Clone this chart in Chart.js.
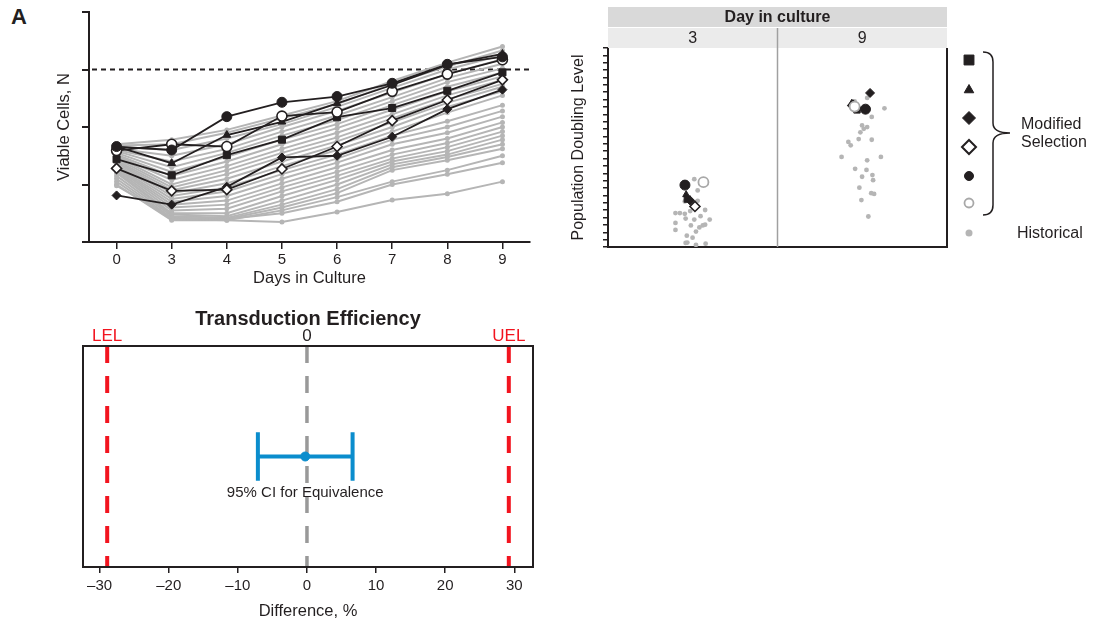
<!DOCTYPE html>
<html>
<head>
<meta charset="utf-8">
<script src="https://cdn.jsdelivr.net/npm/chart.js@4.4.1/dist/chart.umd.min.js"></script>
<style>
  body { margin: 0; background: #fff; width: 1094px; height: 625px; position: relative; overflow: hidden;
         font-family: "Liberation Sans", Arial, sans-serif; }
  .box { position: absolute; }
  #panelA { position: absolute; left: 11px; top: 4px; font-weight: bold; font-size: 22px; color: #231f20; }
</style>
</head>
<body>
<div id="panelA">A</div>
<div class="box" style="left:0;top:0;width:545px;height:295px"><canvas id="cells" width="545" height="295"></canvas></div>
<div class="box" style="left:560px;top:0;width:534px;height:260px"><canvas id="pdl" width="534" height="260"></canvas></div>
<div class="box" style="left:0;top:295px;width:560px;height:330px"><canvas id="te" width="560" height="330"></canvas></div>
<script>
const ink = '#231f20';
const grey = '#b5b5b5';
const red = '#f2141f';
const blue = '#0b8dcd';

// --- viable cells over time ---
const days = ['0', '3', '4', '5', '6', '7', '8', '9'];
const cellsSquare      = [1.44, 1.16, 1.51, 1.78, 2.17, 2.33, 2.63, 2.95];
const cellsTriangle    = [1.66, 1.37, 1.86, 2.09, 2.41, 2.73, 3.08, 3.27];
const cellsDiamond     = [0.81, 0.65, 0.96, 1.47, 1.50, 1.83, 2.31, 2.65];
const cellsOpenDiamond = [1.28, 0.89, 0.91, 1.27, 1.66, 2.11, 2.47, 2.82];
const cellsCircle      = [1.66, 1.60, 2.18, 2.43, 2.53, 2.76, 3.09, 3.22];
const cellsOpenCircle  = [1.59, 1.70, 1.66, 2.19, 2.26, 2.62, 2.92, 3.17];
const historicalCells = [
  [1.70, 1.78, 1.95, 2.20, 2.45, 2.80, 3.12, 3.40],
  [1.68, 1.70, 1.90, 2.15, 2.40, 2.75, 3.05, 3.33],
  [1.65, 1.60, 1.80, 2.05, 2.35, 2.68, 3.00, 3.25],
  [1.62, 1.50, 1.70, 2.00, 2.28, 2.60, 2.92, 3.18],
  [1.60, 1.40, 1.62, 1.92, 2.20, 2.52, 2.85, 3.10],
  [1.58, 1.30, 1.55, 1.85, 2.12, 2.45, 2.78, 3.02],
  [1.55, 1.22, 1.48, 1.78, 2.05, 2.38, 2.70, 2.95],
  [1.52, 1.15, 1.40, 1.70, 1.98, 2.30, 2.62, 2.88],
  [1.50, 1.08, 1.32, 1.62, 1.90, 2.22, 2.55, 2.82],
  [1.48, 1.00, 1.25, 1.55, 1.82, 2.15, 2.48, 2.75],
  [1.45, 0.95, 1.18, 1.48, 1.75, 2.08, 2.42, 2.70],
  [1.42, 0.90, 1.10, 1.40, 1.68, 2.00, 2.35, 2.62],
  [1.40, 0.85, 1.02, 1.32, 1.60, 1.92, 2.25, 2.55],
  [1.38, 0.80, 0.95, 1.25, 1.52, 1.85, 2.10, 2.38],
  [1.35, 0.75, 0.88, 1.18, 1.45, 1.78, 2.00, 2.28],
  [1.32, 0.70, 0.80, 1.10, 1.38, 1.70, 1.90, 2.18],
  [1.30, 0.65, 0.72, 1.02, 1.30, 1.60, 1.80, 2.08],
  [1.28, 0.60, 0.65, 0.95, 1.22, 1.52, 1.72, 2.00],
  [1.25, 0.55, 0.58, 0.88, 1.15, 1.45, 1.65, 1.92],
  [1.22, 0.50, 0.50, 0.80, 1.08, 1.40, 1.58, 1.85],
  [1.20, 0.48, 0.45, 0.72, 1.00, 1.35, 1.52, 1.78],
  [1.15, 0.45, 0.42, 0.65, 0.92, 1.30, 1.48, 1.70],
  [1.10, 0.42, 0.40, 0.60, 0.85, 1.25, 1.42, 1.62],
  [1.05, 0.40, 0.38, 0.55, 0.78, 1.05, 1.25, 1.50],
  [0.98, 0.42, 0.40, 0.50, 0.70, 1.00, 1.18, 1.38],
  [1.00, 0.38, 0.38, 0.35, 0.52, 0.73, 0.84, 1.05]
];
const cellsLimit = 3;

// --- population doubling level, day 3 and day 9 ---
const pdlDays = ['3', '9'];
const pdlSquare      = [{x: 0.468, y: 6.5}, {x: 1.469, y: 18.6}];
const pdlTriangle    = [{x: 0.461, y: 7.1}, {x: 1.438, y: 19.5}];
const pdlDiamond     = [{x: 0.485, y: 6.3}, {x: 1.546, y: 20.9}];
const pdlOpenDiamond = [{x: 0.513, y: 5.5}, {x: 1.445, y: 19.2}];
const pdlCircle      = [{x: 0.454, y: 8.4}, {x: 1.519, y: 18.7}];
const pdlOpenCircle  = [{x: 0.563, y: 8.8}, {x: 1.455, y: 19.05}];
const pdlHistorical = [
  {x: 0.448, y: 8.6}, {x: 0.509, y: 9.2}, {x: 0.529, y: 7.67}, {x: 0.453, y: 6.19}, {x: 0.529, y: 6.27},
  {x: 0.398, y: 4.6}, {x: 0.424, y: 4.6}, {x: 0.453, y: 4.5}, {x: 0.485, y: 4.88}, {x: 0.573, y: 5.02},
  {x: 0.546, y: 4.18}, {x: 0.600, y: 3.72}, {x: 0.573, y: 3.03}, {x: 0.559, y: 2.93}, {x: 0.398, y: 3.26},
  {x: 0.458, y: 3.85}, {x: 0.509, y: 3.72}, {x: 0.539, y: 2.65}, {x: 0.489, y: 2.93}, {x: 0.519, y: 2.09},
  {x: 0.398, y: 2.32}, {x: 0.465, y: 1.53}, {x: 0.499, y: 1.26}, {x: 0.458, y: 0.55}, {x: 0.468, y: 0.6},
  {x: 0.519, y: 0.3}, {x: 0.576, y: 0.45},
  {x: 1.529, y: 20.22}, {x: 1.455, y: 19.75}, {x: 1.631, y: 18.82}, {x: 1.556, y: 17.65}, {x: 1.499, y: 16.5},
  {x: 1.529, y: 16.27}, {x: 1.489, y: 15.56}, {x: 1.509, y: 16.04}, {x: 1.479, y: 14.64}, {x: 1.556, y: 14.55},
  {x: 1.418, y: 14.26}, {x: 1.432, y: 13.8}, {x: 1.378, y: 12.22}, {x: 1.529, y: 11.76}, {x: 1.610, y: 12.22},
  {x: 1.458, y: 10.6}, {x: 1.525, y: 10.46}, {x: 1.499, y: 9.53}, {x: 1.560, y: 9.76}, {x: 1.564, y: 9.06},
  {x: 1.483, y: 8.05}, {x: 1.553, y: 7.3}, {x: 1.570, y: 7.2}, {x: 1.495, y: 6.36}, {x: 1.536, y: 4.14}
];

// --- transduction efficiency equivalence ---
const diffTicks = [-30, -20, -10, 0, 10, 20, 30];
const diffEstimate = -0.25;
const diffCI = [-7.1, 6.6];
const lel = -28.9;
const uel = 29.2;

Chart.defaults.font.family = '"Liberation Sans", Arial, sans-serif';
Chart.defaults.color = ink;
Chart.defaults.animation = false;
Chart.defaults.plugins.legend.display = false;
Chart.defaults.plugins.tooltip.enabled = false;

function markerLine(data, style, radius, open) {
  return {
    data: data, borderColor: ink, borderWidth: 1.8, pointStyle: style, pointRadius: radius,
    pointBackgroundColor: open ? '#fff' : ink, pointBorderColor: ink, pointBorderWidth: open ? 1.6 : 1
  };
}

const cellSets = [
  markerLine(cellsCircle, 'circle', 5, false),
  markerLine(cellsOpenCircle, 'circle', 5, true),
  markerLine(cellsTriangle, 'triangle', 4.5, false),
  markerLine(cellsSquare, 'rect', 5, false),
  markerLine(cellsOpenDiamond, 'rectRot', 5, true),
  markerLine(cellsDiamond, 'rectRot', 4.5, false)
];
historicalCells.forEach(h => cellSets.push({
  data: h, borderColor: grey, borderWidth: 2, pointRadius: 2.5,
  pointBackgroundColor: grey, pointBorderColor: grey, pointBorderWidth: 0
}));

const limitLine = {
  id: 'limitLine',
  beforeDatasetsDraw(chart) {
    const {ctx, chartArea, scales} = chart;
    const y = scales.y.getPixelForValue(cellsLimit);
    ctx.save();
    ctx.strokeStyle = ink;
    ctx.lineWidth = 2;
    ctx.setLineDash([5, 4]);
    ctx.beginPath();
    ctx.moveTo(chartArea.left + 3, y);
    ctx.lineTo(chartArea.right, y);
    ctx.stroke();
    ctx.restore();
  }
};

new Chart(document.getElementById('cells'), {
  type: 'line',
  data: { labels: days, datasets: cellSets },
  options: {
    responsive: false,
    layout: { padding: { left: 52, top: 12, right: 15, bottom: 0 } },
    scales: {
      x: {
        offset: true,
        grid: { offset: false, drawOnChartArea: false, color: ink, lineWidth: 1.5, tickLength: 7 },
        border: { color: ink, width: 2 },
        ticks: { font: { size: 15 }, padding: 2, color: ink, maxRotation: 0 },
        title: { display: true, text: 'Days in Culture', font: { size: 16.5 }, padding: { top: 0, bottom: 7 } },
        afterFit: s => { s.height = 53; }
      },
      y: {
        min: 0, max: 4,
        ticks: { stepSize: 1, display: false },
        grid: { drawOnChartArea: false, color: ink, lineWidth: 2, tickLength: 7 },
        border: { color: ink, width: 2 },
        title: { display: true, text: 'Viable Cells, N', font: { size: 16.5 }, padding: { top: 3 } },
        afterFit: s => { s.width = 37; }
      }
    }
  },
  plugins: [limitLine]
});

// population doubling level
function pdlSet(data, style, radius, fill, border, width) {
  return { data: data, pointStyle: style, pointRadius: radius, pointBackgroundColor: fill,
           pointBorderColor: border, pointBorderWidth: width };
}

const pdlSets = [
  pdlSet(pdlDiamond, 'rectRot', 4.5, ink, ink, 1),
  pdlSet(pdlCircle, 'circle', 5, ink, ink, 1),
  pdlSet(pdlOpenCircle, 'circle', 5, '#fff', '#a8a8a8', 1.8),
  pdlSet(pdlOpenDiamond, 'rectRot', 5, '#fff', ink, 1.6),
  pdlSet(pdlSquare, 'rect', 4.5, ink, ink, 1),
  pdlSet(pdlTriangle, 'triangle', 4, ink, ink, 1),
  pdlSet(pdlHistorical, 'circle', 2.4, grey, grey, 0)
];

const legendItems = [
  { style: 'rect', radius: 7, fill: ink, stroke: ink, width: 1, y: 60 },
  { style: 'triangle', radius: 5.5, fill: ink, stroke: ink, width: 1, y: 90 },
  { style: 'rectRot', radius: 6.5, fill: ink, stroke: ink, width: 1, y: 118 },
  { style: 'rectRot', radius: 7, fill: '#fff', stroke: ink, width: 2, y: 147 },
  { style: 'circle', radius: 4.5, fill: ink, stroke: ink, width: 1, y: 176 },
  { style: 'circle', radius: 4.5, fill: '#fff', stroke: '#a8a8a8', width: 1.8, y: 203 },
  { style: 'circle', radius: 3.5, fill: grey, stroke: grey, width: 0, y: 233 }
];

const facetFrame = {
  id: 'facetFrame',
  afterDraw(chart) {
    const {ctx, chartArea: a, scales: {x}} = chart;
    const w = a.right - a.left;
    ctx.save();
    ctx.fillStyle = '#d9d9d9';
    ctx.fillRect(a.left, 7, w, 20);
    ctx.fillStyle = '#ebebeb';
    ctx.fillRect(a.left, 28, w, 20);
    ctx.fillStyle = ink;
    ctx.textAlign = 'center';
    ctx.textBaseline = 'middle';
    ctx.font = 'bold 16px "Liberation Sans", Arial, sans-serif';
    ctx.fillText('Day in culture', (a.left + a.right) / 2, 17.5);
    ctx.font = '16px "Liberation Sans", Arial, sans-serif';
    pdlDays.forEach((d, i) => ctx.fillText(d, x.getPixelForValue(i + 0.5), 38.5));
    // panel divider
    ctx.strokeStyle = '#a0a0a0';
    ctx.lineWidth = 1.5;
    ctx.beginPath();
    ctx.moveTo(x.getPixelForValue(1), 28);
    ctx.lineTo(x.getPixelForValue(1), a.bottom);
    ctx.stroke();
    // right frame
    ctx.strokeStyle = ink;
    ctx.lineWidth = 2;
    ctx.beginPath();
    ctx.moveTo(a.right, a.top);
    ctx.lineTo(a.right, a.bottom + 1);
    ctx.stroke();
    // legend
    const lx = a.right + 22;
    legendItems.forEach(it => {
      ctx.fillStyle = it.fill;
      ctx.strokeStyle = it.stroke;
      ctx.lineWidth = it.width;
      Chart.helpers.drawPoint(ctx, { pointStyle: it.style, radius: it.radius, rotation: 0, borderWidth: it.width }, lx, it.y);
    });
    // brace
    const bx = a.right + 46;
    ctx.strokeStyle = ink;
    ctx.lineWidth = 1.5;
    ctx.beginPath();
    ctx.moveTo(bx - 10, 52);
    ctx.quadraticCurveTo(bx, 52, bx, 62);
    ctx.lineTo(bx, 123);
    ctx.quadraticCurveTo(bx, 133, bx + 17, 133);
    ctx.quadraticCurveTo(bx, 133, bx, 143);
    ctx.lineTo(bx, 205);
    ctx.quadraticCurveTo(bx, 215, bx - 10, 215);
    ctx.stroke();
    ctx.fillStyle = ink;
    ctx.textAlign = 'left';
    ctx.font = '16px "Liberation Sans", Arial, sans-serif';
    ctx.fillText('Modified', bx + 28, 125);
    ctx.fillText('Selection', bx + 28, 143);
    ctx.fillText('Historical', bx + 24, 234);
    ctx.restore();
  }
};

new Chart(document.getElementById('pdl'), {
  type: 'scatter',
  data: { datasets: pdlSets },
  options: {
    responsive: false,
    layout: { padding: { left: 5, top: 48, right: 147, bottom: 13 } },
    scales: {
      x: {
        type: 'linear', min: 0, max: 2,
        ticks: { display: false },
        grid: { display: false },
        border: { color: ink, width: 2 },
        afterFit: s => { s.height = 0; }
      },
      y: {
        min: 0, max: 27,
        ticks: { stepSize: 1, display: false },
        grid: { drawOnChartArea: false, color: ink, lineWidth: 1.5, tickLength: 5 },
        border: { color: ink, width: 2 },
        title: { display: true, text: 'Population Doubling Level', font: { size: 16 }, padding: { top: 4 } },
        afterFit: s => { s.width = 43; }
      }
    }
  },
  plugins: [facetFrame]
});

// transduction efficiency
const capHalf = 0.22;
const vline = (x, color, width) => ({
  data: [{x: x, y: 1}, {x: x, y: -1}], showLine: true, borderColor: color, borderWidth: width,
  borderDash: [17, 13], pointRadius: 0
});

const teSets = [
  { data: [{x: diffEstimate, y: 0}], pointRadius: 4.5, pointBackgroundColor: blue, pointBorderColor: blue },
  { data: [{x: diffCI[0], y: 0}, {x: diffCI[1], y: 0}], showLine: true, borderColor: blue, borderWidth: 4, pointRadius: 0 },
  { data: [{x: diffCI[0], y: capHalf}, {x: diffCI[0], y: -capHalf}], showLine: true, borderColor: blue, borderWidth: 4, pointRadius: 0 },
  { data: [{x: diffCI[1], y: capHalf}, {x: diffCI[1], y: -capHalf}], showLine: true, borderColor: blue, borderWidth: 4, pointRadius: 0 },
  vline(lel, red, 4),
  vline(uel, red, 4),
  vline(0, '#999999', 3.5)
];

const teFrame = {
  id: 'teFrame',
  afterDraw(chart) {
    const {ctx, chartArea: a, scales: {x}} = chart;
    ctx.save();
    ctx.strokeStyle = ink;
    ctx.lineWidth = 2;
    ctx.strokeRect(a.left, a.top, a.right - a.left, a.bottom - a.top);
    ctx.textAlign = 'center';
    ctx.textBaseline = 'middle';
    ctx.fillStyle = ink;
    ctx.font = 'bold 20px "Liberation Sans", Arial, sans-serif';
    ctx.fillText('Transduction Efficiency', (a.left + a.right) / 2, 24);
    ctx.font = '17px "Liberation Sans", Arial, sans-serif';
    ctx.fillText('0', x.getPixelForValue(0), 41);
    ctx.fillStyle = red;
    ctx.fillText('LEL', x.getPixelForValue(lel), 41);
    ctx.fillText('UEL', x.getPixelForValue(uel), 41);
    ctx.fillStyle = ink;
    ctx.font = '15px "Liberation Sans", Arial, sans-serif';
    ctx.fillText('95% CI for Equivalence', x.getPixelForValue(diffEstimate), 198);
    ctx.restore();
  }
};

new Chart(document.getElementById('te'), {
  type: 'scatter',
  data: { datasets: teSets },
  options: {
    responsive: false,
    layout: { padding: { left: 0, top: 51, right: 27, bottom: 0 } },
    scales: {
      x: {
        type: 'linear', min: -32.4, max: 32.7,
        afterBuildTicks: s => { s.ticks = diffTicks.map(v => ({value: v})); },
        ticks: { font: { size: 15 }, padding: 4, color: ink, callback: v => String(v).replace('-', '\u2013') },
        grid: { drawOnChartArea: false, color: ink, lineWidth: 1.5, tickLength: 6 },
        border: { display: false },
        title: { display: true, text: 'Difference, %', font: { size: 16.5 }, padding: { top: 0, bottom: 4 } },
        afterFit: s => { s.height = 58; }
      },
      y: {
        min: -1, max: 1,
        ticks: { display: false },
        grid: { display: false },
        border: { display: false },
        afterFit: s => { s.width = 83; }
      }
    }
  },
  plugins: [teFrame]
});
</script>
</body>
</html>
